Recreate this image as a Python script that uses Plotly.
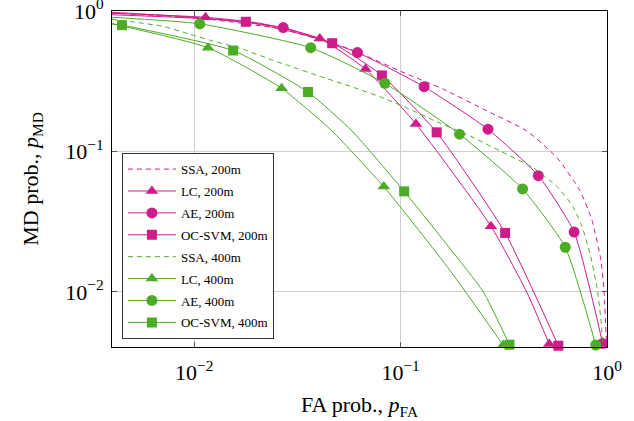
import plotly.graph_objects as go

MAGENTA = "#d01c8b"
GREEN = "#4dac26"

# ---- data (FA prob. x, MD prob. y, marker flags) ----
ssa200_x = [0.004, 0.01065, 0.0269, 0.0568, 0.105, 0.160, 0.262, 0.409, 0.573, 0.740, 0.846, 0.935, 0.967, 0.989, 1.0]
ssa200_y = [0.964, 0.887, 0.741, 0.535, 0.361, 0.279, 0.1945, 0.140, 0.0902, 0.0526, 0.0323, 0.0168, 0.0103, 0.00509, 0.004]

lc200_x = [0.004, 0.01135, 0.0208, 0.0406, 0.0676, 0.1187, 0.274, 0.409, 0.525]
lc200_y = [0.964, 0.902, 0.818, 0.637, 0.386, 0.157, 0.0294, 0.00995, 0.00426]
lc200_m = [0, 1, 0, 1, 1, 1, 1, 0, 1]

ae200_x = [0.004, 0.01065, 0.0270, 0.0618, 0.130, 0.265, 0.465, 0.693, 0.953]
ae200_y = [0.979, 0.895, 0.762, 0.506, 0.289, 0.144, 0.0673, 0.0267, 0.0043]
ae200_m = [0, 0, 1, 1, 1, 1, 1, 1, 1]

oc200_x = [0.004, 0.0178, 0.0466, 0.0812, 0.1496, 0.321, 0.581]
oc200_y = [0.940, 0.838, 0.590, 0.348, 0.1368, 0.0263, 0.00414]
oc200_m = [0, 1, 1, 1, 1, 1, 1]

ssa400_x = [0.004, 0.00515, 0.00705, 0.00952, 0.01191, 0.01722, 0.0241, 0.0290, 0.0406, 0.0568, 0.0821,
            0.1073, 0.150, 0.217, 0.303, 0.438, 0.573, 0.684, 0.757, 0.827, 0.894, 0.935, 0.957]
ssa400_y = [0.873, 0.832, 0.779, 0.684, 0.620, 0.535, 0.445, 0.406, 0.343, 0.292, 0.2405,
            0.204, 0.1626, 0.129, 0.101, 0.0766, 0.0562, 0.0406, 0.0292, 0.0188, 0.0108, 0.00630, 0.00405]

lc400_x = [0.004, 0.01167, 0.0265, 0.0465, 0.0829, 0.1734, 0.314]
lc400_y = [0.811, 0.548, 0.282, 0.140, 0.0562, 0.01426, 0.00419]
lc400_m = [0, 1, 1, 0, 1, 0, 1]

ae400_x = [0.004, 0.01065, 0.0367, 0.0839, 0.193, 0.390, 0.628, 0.882]
ae400_y = [0.902, 0.811, 0.548, 0.306, 0.1328, 0.0541, 0.0208, 0.00419]
ae400_m = [0, 1, 1, 1, 1, 1, 1, 1]

oc400_x = [0.004, 0.00447, 0.01545, 0.0356, 0.0581, 0.1041, 0.1734, 0.2506, 0.337]
oc400_y = [0.81, 0.793, 0.523, 0.265, 0.140, 0.0520, 0.0204, 0.0101, 0.00421]
oc400_m = [0, 1, 1, 1, 0, 1, 0, 0, 1]

tick_vals = [0.01, 0.1, 1]
tick_text = ["10<sup>−2</sup>", "10<sup>−1</sup>", "10<sup>0</sup>"]

series = [
    ("SSA, 200m", ssa200_x, ssa200_y, None, MAGENTA, "dash", None),
    ("LC, 200m", lc200_x, lc200_y, lc200_m, MAGENTA, "solid", "triangle-up"),
    ("AE, 200m", ae200_x, ae200_y, ae200_m, MAGENTA, "solid", "circle"),
    ("OC-SVM, 200m", oc200_x, oc200_y, oc200_m, MAGENTA, "solid", "square"),
    ("SSA, 400m", ssa400_x, ssa400_y, None, GREEN, "dash", None),
    ("LC, 400m", lc400_x, lc400_y, lc400_m, GREEN, "solid", "triangle-up"),
    ("AE, 400m", ae400_x, ae400_y, ae400_m, GREEN, "solid", "circle"),
    ("OC-SVM, 400m", oc400_x, oc400_y, oc400_m, GREEN, "solid", "square"),
]

MSIZE = {"triangle-up": 11, "circle": 11, "square": 10}
DASH = "5px,4px"
SERIF = "Liberation Serif"

fig = go.Figure()
for i, (name, xs, ys, marks, col, dash, sym) in enumerate(series):
    d = DASH if dash == "dash" else "solid"
    fig.add_trace(go.Scatter(x=xs, y=ys, mode="lines",
                             line=dict(color=col, width=1, dash=d, shape="spline", smoothing=0.5),
                             showlegend=False, cliponaxis=False, hoverinfo="skip"))
    if marks is not None:
        mx = [x for x, m in zip(xs, marks) if m]
        my = [y for y, m in zip(ys, marks) if m]
        fig.add_trace(go.Scatter(x=mx, y=my, mode="markers",
                                 marker=dict(symbol=sym, size=MSIZE[sym], color=col, line=dict(width=0)),
                                 showlegend=False, cliponaxis=False))
    fig.add_trace(go.Scatter(x=[None], y=[None], name=name, legendgroup=str(i),
                             mode="lines" if marks is None else "lines+markers",
                             line=dict(color=col, width=1, dash=d),
                             marker=dict(symbol=sym or "circle", size=MSIZE.get(sym, 10), color=col)))

axis_common = dict(
    type="log", showline=True, linecolor="black", linewidth=1, mirror="ticks",
    ticks="inside", ticklen=5, tickcolor="#555555", tickwidth=1,
    showgrid=True, gridcolor="#cfcfcf", gridwidth=1, zeroline=False,
    tickvals=tick_vals, ticktext=tick_text, ticklabeloverflow="allow",
    tickfont=dict(family=SERIF, size=22, color="black"),
)

fig.update_xaxes(range=[-2.398, 0], ticklabelstandoff=6,
                 title=dict(text="FA prob., <i>p</i><sub>FA</sub>",
                            font=dict(family=SERIF, size=22, color="black"), standoff=12), **axis_common)
fig.update_yaxes(range=[-2.392, 0], ticklabelstandoff=3,
                 title=dict(text="MD prob., <i>p</i><sub>MD</sub>",
                            font=dict(family=SERIF, size=22, color="black"), standoff=20), **axis_common)

fig.update_layout(
    width=634, height=421,
    margin=dict(l=112, r=27, t=11, b=74, autoexpand=False),
    plot_bgcolor="white", paper_bgcolor="white",
    font=dict(family=SERIF, size=13, color="black"),
    legend=dict(x=0.02, y=0.577, xanchor="left", yanchor="top",
                bgcolor="white", bordercolor="#333333", borderwidth=1,
                font=dict(family=SERIF, size=13, color="black"),
                tracegroupgap=2, itemsizing="trace", itemwidth=48),
)

fig.write_html("out.html")
